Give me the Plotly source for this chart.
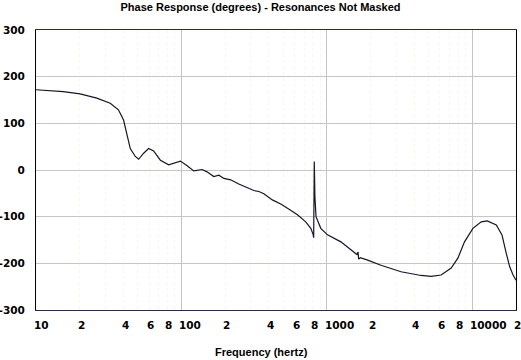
import plotly.graph_objects as go
import math

# Data
freq_hz = [10, 12.5, 15.4, 20.1, 26.2, 32.4, 36.9, 40.0, 42.2, 44.5, 48.2, 50.8, 55.0, 59.5,
           64.4, 71.7, 81.7, 93.4, 98.4, 109.5, 121.6, 139, 150, 167, 181, 196, 218, 248,
           284, 315, 341, 369, 422, 482, 550, 628, 716, 776, 805, 812, 820, 828, 843, 863,
           880, 909, 1011, 1249, 1610, 1640, 1655, 1700, 1909, 2357, 3238, 4449, 5215,
           6113, 7166, 7967, 8849, 10110, 11535, 12690, 14640, 16020, 17160, 18080, 19090,
           20000]
phase_deg = [172, 170, 168, 163, 154, 143, 129, 107, 79, 46, 29, 23, 36, 46,
             41, 21, 11, 16, 19, 9, -2, 1, -4, -14, -11, -18, -21, -30,
             -37, -44, -46, -51, -64, -73, -84, -96, -111, -125, -138, -145, 18, -57, -100, -108,
             -118, -125, -139, -154, -181, -176, -191, -188, -193, -204, -218, -226, -228,
             -225, -210, -189, -154, -125, -111, -109, -118, -139, -179, -207, -225,
             -236]

x_tick_vals = [10, 20, 40, 60, 80, 100, 200, 400, 600, 800, 1000, 2000, 4000, 6000, 8000, 10000, 20000]
x_tick_text = ["10", "2", "4", "6", "8", "100", "2", "4", "6", "8", "1000", "2", "4", "6", "8", "10000", "2"]
y_tick_vals = [-300, -200, -100, 0, 100, 200, 300]
y_tick_text = ["-300", "-200", "-100", "0", "100", "200", "300"]

title_text = "Phase Response (degrees) - Resonances Not Masked"
x_title = "Frequency (hertz)"

tick_font = dict(family="DejaVu Sans", size=10.5, color="#000000")
title_font = dict(family="Liberation Sans", size=11, color="#000000")

fig = go.Figure()
fig.add_trace(go.Scatter(x=freq_hz, y=phase_deg, mode="lines",
                         line=dict(color="#15152a", width=1.2), showlegend=False,
                         hoverinfo="skip"))

fig.update_layout(
    width=521, height=360,
    margin=dict(l=36, r=5, t=30, b=50, autoexpand=False),
    paper_bgcolor="white", plot_bgcolor="white",
    title=dict(text="<b>" + title_text + "</b>", x=0.5, xref="container", xanchor="center",
               y=1 - 7 / 360, yref="container", yanchor="middle", font=title_font),
    xaxis=dict(type="log", range=[1, math.log10(20000)], automargin=False,
               tickvals=[100, 1000, 10000], showticklabels=False, ticks="",
               showgrid=True, gridcolor="#c4c4c4", gridwidth=1,
               minor=dict(dtick="D1", showgrid=True, gridcolor="#f8f6ea", griddash="dot", ticks=""),
               showline=True, linecolor="#2a2a40", linewidth=1, mirror=True,
               zeroline=False),
    yaxis=dict(range=[-300, 300], tickvals=y_tick_vals, ticktext=y_tick_text, automargin=False,
               tickfont=dict(family="DejaVu Sans", size=10.5, color="#000000", weight="bold"),
               ticks="", ticklabelstandoff=8,
               showgrid=True, gridcolor="#c8c4c8", gridwidth=1,
               showline=True, linecolor="#000000", linewidth=1, mirror=True,
               zeroline=False),
)

for v, t in zip(x_tick_vals, x_tick_text):
    fig.add_annotation(x=math.log10(v), xref="x", y=0, yref="paper",
                       text="<b>" + t + "</b>", showarrow=False,
                       xanchor="left", yanchor="middle", xshift=-4, yshift=-15,
                       font=tick_font)

fig.add_annotation(x=(261 - 36) / 480, xref="paper", y=0, yref="paper",
                   text="<b>" + x_title + "</b>", showarrow=False,
                   xanchor="center", yanchor="middle", yshift=-42, font=title_font)

fig.write_html("out.html", config={"displayModeBar": False},
               post_script="document.body.style.margin='0px';document.body.style.padding='0px';")
